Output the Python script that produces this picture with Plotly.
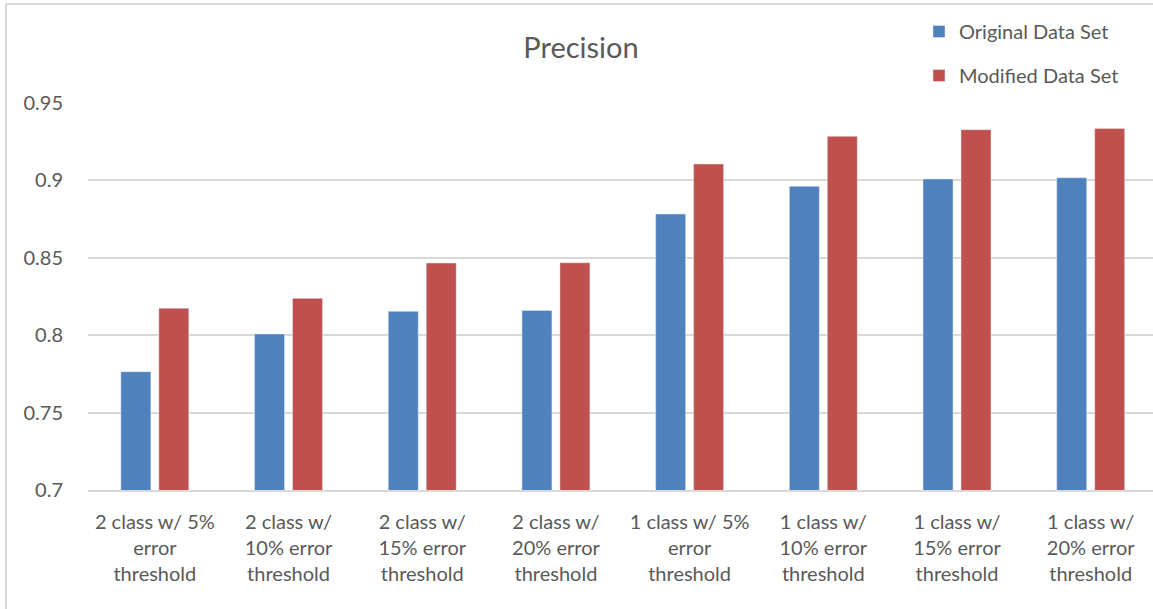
import plotly.graph_objects as go

categories = [
    "2 class w/ 5%<br>error<br>threshold",
    "2 class w/<br>10% error<br>threshold",
    "2 class w/<br>15% error<br>threshold",
    "2 class w/<br>20% error<br>threshold",
    "1 class w/ 5%<br>error<br>threshold",
    "1 class w/<br>10% error<br>threshold",
    "1 class w/<br>15% error<br>threshold",
    "1 class w/<br>20% error<br>threshold",
]
original = [0.7764, 0.8008, 0.8154, 0.8160, 0.8783, 0.8962, 0.9009, 0.9017]
modified = [0.8174, 0.8238, 0.8466, 0.8468, 0.9106, 0.9285, 0.9328, 0.9336]
y_ticks = [0.7, 0.75, 0.8, 0.85, 0.9, 0.95]
y_tick_text = ["0.7", "0.75", "0.8", "0.85", "0.9", "0.95"]

FONT = "Lato"
GREY = "#595959"

fig = go.Figure()
fig.add_trace(go.Bar(x=categories, y=original, name="Original Data Set",
                     marker_color="#4F81BD", legendgroup="a"))
fig.add_trace(go.Bar(x=categories, y=modified, name="Modified Data Set",
                     marker_color="#C0504D", legendgroup="b"))

fig.update_layout(
    width=1153, height=609,
    margin=dict(l=88, r=0, t=103, b=119, autoexpand=False),
    paper_bgcolor="white", plot_bgcolor="white",
    font=dict(family=FONT, color=GREY, size=20),
    title=dict(text="Precision", x=581/1153, xref="container", xanchor="center",
               y=1-48/609, yref="container", yanchor="middle",
               font=dict(size=29, color=GREY, family=FONT)),
    bargap=0.432, bargroupgap=0.21,
    showlegend=True,
    legend=dict(x=919/1153, xref="container", y=1-12/609, yref="container",
                xanchor="left", yanchor="top", tracegroupgap=15,
                font=dict(size=20, color=GREY, family=FONT),
                bgcolor="rgba(0,0,0,0)", itemwidth=30),
    xaxis=dict(range=[-0.5, 7.466], showgrid=False, showline=True,
               linecolor="#d9d9d9", linewidth=1.5, ticks="", tickangle=0,
               automargin=False, ticklabelstandoff=13,
               tickfont=dict(size=20, color=GREY, family=FONT)),
    yaxis=dict(range=[0.7, 0.95], tickvals=y_ticks, ticktext=y_tick_text,
               showgrid=True, gridcolor="#d9d9d9", gridwidth=1.5,
               zeroline=False, showline=False, ticks="", automargin=False,
               ticklabelstandoff=24,
               tickfont=dict(size=20, color=GREY, family=FONT)),
    shapes=[
        dict(type="line", xref="paper", yref="paper", x0=-82/1065, x1=1.0,
             y0=1+99/387, y1=1+99/387, line=dict(color="#d9d9d9", width=2)),
        dict(type="line", xref="paper", yref="paper", x0=-82/1065, x1=-82/1065,
             y0=-119/387, y1=1+99/387, line=dict(color="#d9d9d9", width=2)),
    ],
)

fig.write_html("out.html", config={"displayModeBar": False},
               post_script="document.body.style.margin='0';document.body.style.overflow='hidden';")
